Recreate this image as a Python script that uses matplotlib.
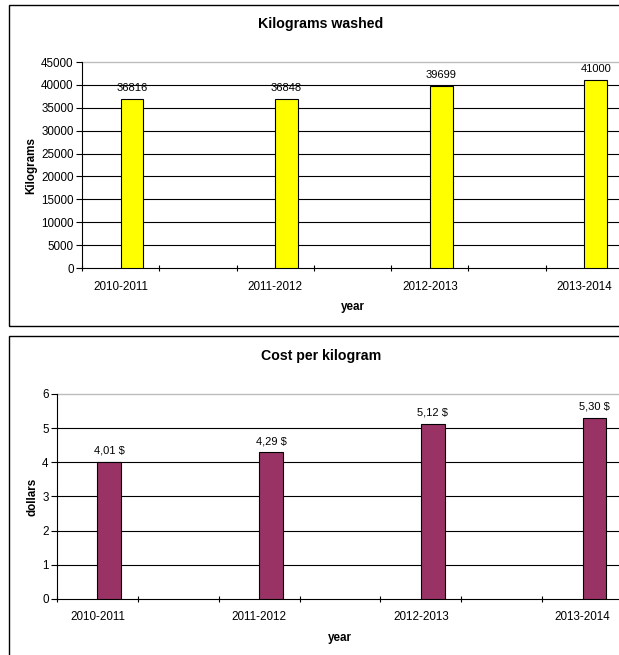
import matplotlib.pyplot as plt
from matplotlib.patches import Rectangle
import numpy as np

# category slots on the x axis; only every other slot carries a season
slot_labels = ["2010-2011", "", "2011-2012", "", "2012-2013", "", "2013-2014"]
seasons = ["2010-2011", "2011-2012", "2012-2013", "2013-2014"]
season_slots = [0, 2, 4, 6]

kilograms = [36816, 36848, 39699, 41000]
cost = [4.01, 4.29, 5.12, 5.30]
cost_labels = ["4,01 $", "4,29 $", "5,12 $", "5,30 $"]

plt.rcParams['font.family'] = ['Liberation Sans', 'DejaVu Sans']

fig = plt.figure(figsize=(6.19, 6.55), dpi=100)

# chart frames (right/bottom edges run off the canvas)
fig.patches.append(Rectangle((0.0145, 0.5023), 1.2, 0.4900, transform=fig.transFigure,
                             fill=False, edgecolor='black', linewidth=1.0))
fig.patches.append(Rectangle((0.0145, -0.2), 1.2, 0.6870, transform=fig.transFigure,
                             fill=False, edgecolor='black', linewidth=1.0))

bar_w = 1 / 3.4
fs = 8.4


def bar_panel(rect, values, texts, color, ymax, ystep, ylabel, title, title_y):
    ax = fig.add_axes(rect)
    n = len(slot_labels)
    x = np.array(season_slots) + 0.5 + bar_w / 2
    ax.bar(x, values, width=bar_w, color=color, edgecolor='black', linewidth=0.8, zorder=3)
    for xi, v, t in zip(x, values, texts):
        ax.annotate(t, (xi, v), xytext=(0, 4.5), textcoords='offset points',
                    ha='center', va='bottom', fontsize=8)
    ax.set_xlim(0, n)
    ax.set_ylim(0, ymax)
    yt = np.arange(0, ymax + ystep / 2, ystep)
    ax.set_yticks(yt)
    ax.set_yticklabels([f"{v:g}" for v in yt], fontsize=fs)
    for v in yt[1:-1]:
        ax.axhline(v, color='black', linewidth=0.8, zorder=1)
    ax.axhline(ymax, color='#bdbdbd', linewidth=1.0, zorder=1, clip_on=False)
    ax.set_xticks(np.arange(0, n + 1))
    ax.set_xticklabels([])
    ax.set_xticks(np.array(season_slots) + 0.5, minor=True)
    ax.set_xticklabels(seasons, minor=True, fontsize=fs)
    ax.tick_params(axis='x', which='minor', length=0, pad=9)
    ax.tick_params(axis='x', which='major', length=4, width=0.8, direction='inout')
    ax.tick_params(axis='y', length=4, width=0.8, pad=2)
    for s in ['top', 'right']:
        ax.spines[s].set_visible(False)
    for s in ['left', 'bottom']:
        ax.spines[s].set_linewidth(0.8)
    ax.set_ylabel(ylabel, fontsize=fs, fontweight='bold', labelpad=3)
    fig.text(0.518, title_y, title, ha='center', va='center', fontsize=10.2, fontweight='bold')
    ax.set_xlabel("year", fontsize=fs, fontweight='bold', labelpad=6)
    return ax


bar_panel([0.1325, 0.5908, 0.874, 0.3145], kilograms, [str(v) for v in kilograms],
          '#ffff00', 45000, 5000, "Kilograms", "Kilograms washed", 1 - 24 / 655)
bar_panel([0.0921, 0.0855, 0.9144, 0.3130], cost, cost_labels,
          '#993366', 6, 1, "dollars", "Cost per kilogram", 1 - 356 / 655)

fig.savefig("out.png", dpi=100)
